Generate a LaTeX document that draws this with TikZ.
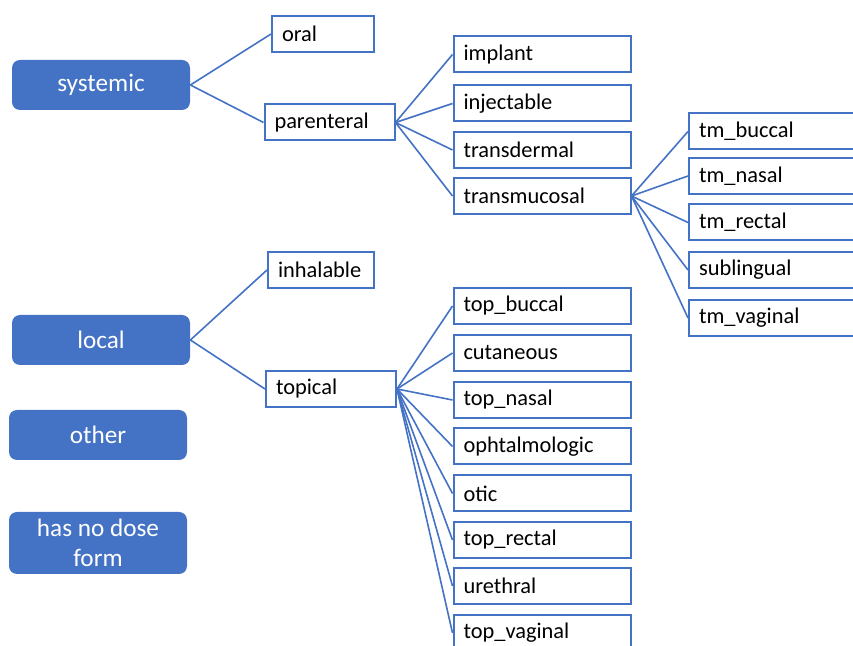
\documentclass[tikz,border=0pt]{standalone}
\usepackage{fontspec}
\setmainfont{Carlito}
\definecolor{msblue}{HTML}{4472C4}

\begin{document}
\begin{tikzpicture}[x=0.5pt,y=-0.5pt,
  cat/.style={fill=msblue,rounded corners=4pt,text=white,font=\fontsize{12.6}{15}\selectfont,
    minimum width=89pt,minimum height=25pt,align=center,inner sep=0pt},
  leaf/.style={draw=msblue,line width=1pt,fill=white,font=\fontsize{11.2}{13}\selectfont,
    minimum height=18pt,inner xsep=5pt,inner ysep=0pt,align=left,text width=#1},
  leaf/.default=78.5pt,
  link/.style={msblue,line width=0.8pt}]
%\draw[style=help lines] (0,0) grid[step=50] (853,646);
\useasboundingbox (0,0) rectangle (853,646);

\node[cat] (systemic) at (101,85) {systemic};
\node[cat] (local) at (101,340) {local};
\node[cat] (other) at (98,435) {other};
\node[cat,minimum height=31pt] (nodose) at (98,543) {has no dose\\form};

\node[leaf=41pt] (oral) at (323,34) {oral};
\node[leaf=55pt] (parenteral) at (329.5,122.5) {parenteral};
\draw[link] (systemic.east) -- (oral.west);
\draw[link] (systemic.east) -- (parenteral.west);

\node[leaf] (implant) at (542,54.5) {implant};
\node[leaf] (injectable) at (542,103.5) {injectable};
\node[leaf] (transdermal) at (542,150) {transdermal};
\node[leaf] (transmucosal) at (542,196) {transmucosal};
\draw[link] (parenteral.east) -- (implant.west);
\draw[link] (parenteral.east) -- (injectable.west);
\draw[link] (parenteral.east) -- (transdermal.west);
\draw[link] (parenteral.east) -- (transmucosal.west);

\node[leaf] (tmbuccal) at (777.5,131.5) {tm\_buccal};
\node[leaf] (tmnasal) at (777.5,176) {tm\_nasal};
\node[leaf] (tmrectal) at (777.5,222.5) {tm\_rectal};
\node[leaf] (sublingual) at (777.5,270) {sublingual};
\node[leaf] (tmvaginal) at (777.5,318) {tm\_vaginal};
\draw[link] (transmucosal.east) -- (tmbuccal.west);
\draw[link] (transmucosal.east) -- (tmnasal.west);
\draw[link] (transmucosal.east) -- (tmrectal.west);
\draw[link] (transmucosal.east) -- (sublingual.west);
\draw[link] (transmucosal.east) -- (tmvaginal.west);

\node[leaf=43pt] (inhalable) at (321,270) {inhalable};
\node[leaf=55pt] (topical) at (331,389) {topical};
\draw[link] (local.east) -- (inhalable.west);
\draw[link] (local.east) -- (topical.west);

\node[leaf] (topbuccal) at (542,306) {top\_buccal};
\node[leaf] (cutaneous) at (542,353) {cutaneous};
\node[leaf] (topnasal) at (542,400) {top\_nasal};
\node[leaf] (ophtalmologic) at (542,446.5) {ophtalmologic};
\node[leaf] (otic) at (542,493.5) {otic};
\node[leaf] (toprectal) at (542,540) {top\_rectal};
\node[leaf] (urethral) at (542,586) {urethral};
\node[leaf] (topvaginal) at (542,633) {top\_vaginal};
\draw[link] (topical.east) -- (topbuccal.west);
\draw[link] (topical.east) -- (cutaneous.west);
\draw[link] (topical.east) -- (topnasal.west);
\draw[link] (topical.east) -- (ophtalmologic.west);
\draw[link] (topical.east) -- (otic.west);
\draw[link] (topical.east) -- (toprectal.west);
\draw[link] (topical.east) -- (urethral.west);
\draw[link] (topical.east) -- (topvaginal.west);

\end{tikzpicture}
\end{document}
